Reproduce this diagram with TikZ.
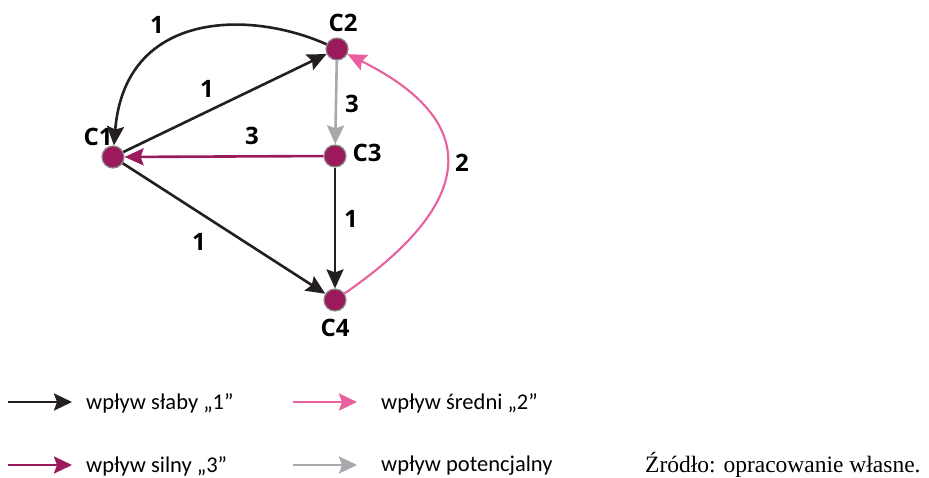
\documentclass[tikz,border=0pt]{standalone}
\usepackage{fontspec}
\setmainfont{Carlito}
\newfontfamily\labfont{Open Sans}
\newfontfamily\srcfont{Liberation Serif}
\usetikzlibrary{arrows.meta}
\definecolor{cweak}{HTML}{231F20}
\definecolor{cstrong}{HTML}{9B1A5C}
\definecolor{cmedium}{HTML}{E8609E}
\definecolor{cpotential}{HTML}{A7A9AC}
\definecolor{crim}{HTML}{8A8A8A}
\tikzset{
  vertex/.style={circle, fill=cstrong, draw=crim, line width=1.2pt,
    minimum size=22pt, inner sep=0pt},
  vlabel/.style={font=\labfont\bfseries\fontsize{24}{24}\selectfont, inner sep=0pt},
  influence/.style={line width=2.6pt, -{Stealth[length=19pt,width=17pt,inset=3pt]}},
  keyarrow/.style={line width=2.6pt, -{Stealth[length=18pt,width=17pt,inset=3pt]}},
  keytext/.style={font=\fontsize{22.5}{24}\selectfont, anchor=west, inner sep=0pt}
}
\begin{document}
\begin{tikzpicture}[x=1pt,y=-1pt]
      \useasboundingbox (0,0) rectangle (929,477);
      \draw
        (113,157) node[vertex] (C1){}
        (337,49) node[vertex] (C2){}
        (335,156) node[vertex] (C3){}
        (335,300) node[vertex] (C4){};
      \draw
        (98,137) node[vlabel] (tC1){C1}
        (343,23) node[vlabel] (tC2){C2}
        (367,153) node[vlabel] (tC3){C3}
        (335,328) node[vlabel] (tC4){C4};
      \begin{scope}[influence]
        \draw[cweak] (C2) .. controls (250,10) and (125,10) .. (C1);
        \draw[cweak] (C1) to (C2);
        \draw[cstrong] (C3) to (C1);
        \draw[cpotential] (C2) to (C3);
        \draw[cweak] (C3) to (C4);
        \draw[cweak] (C1) to (C4);
        \draw[cmedium, line width=2.1pt] (C4) .. controls (480,200) and (480,120) .. (C2);
      \end{scope}
      \draw
        (157,25) node[vlabel] (w12){1}
        (207,89) node[vlabel] (w21){1}
        (252,136) node[vlabel] (w31){3}
        (352,104) node[vlabel] (w23){3}
        (462,163) node[vlabel] (w42){2}
        (351,219) node[vlabel] (w34){1}
        (199,242) node[vlabel] (w14){1};
      % legend
      \coordinate (k1a) at (8,402);   \coordinate (k1b) at (72,402);
      \coordinate (k2a) at (293,402); \coordinate (k2b) at (357,402);
      \coordinate (k3a) at (8,465);   \coordinate (k3b) at (72,465);
      \coordinate (k4a) at (293,465); \coordinate (k4b) at (357,465);
      \draw[keyarrow, cweak] (k1a) -- (k1b);
      \draw[keyarrow, cmedium] (k2a) -- (k2b);
      \draw[keyarrow, cstrong] (k3a) -- (k3b);
      \draw[keyarrow, cpotential] (k4a) -- (k4b);
      \draw
        (86,403) node[keytext] (t1){wpływ słaby „1”}
        (381,403) node[keytext] (t2){wpływ średni „2”}
        (86,466) node[keytext] (t3){wpływ silny „3”}
        (381,466) node[keytext] (t4){wpływ potencjalny};
      \node[font=\srcfont\fontsize{23.5}{24}\selectfont, anchor=base west, inner sep=0pt]
        (src) at (645,472) {Źródło: opracowanie własne.};
    \end{tikzpicture}
\end{document}
